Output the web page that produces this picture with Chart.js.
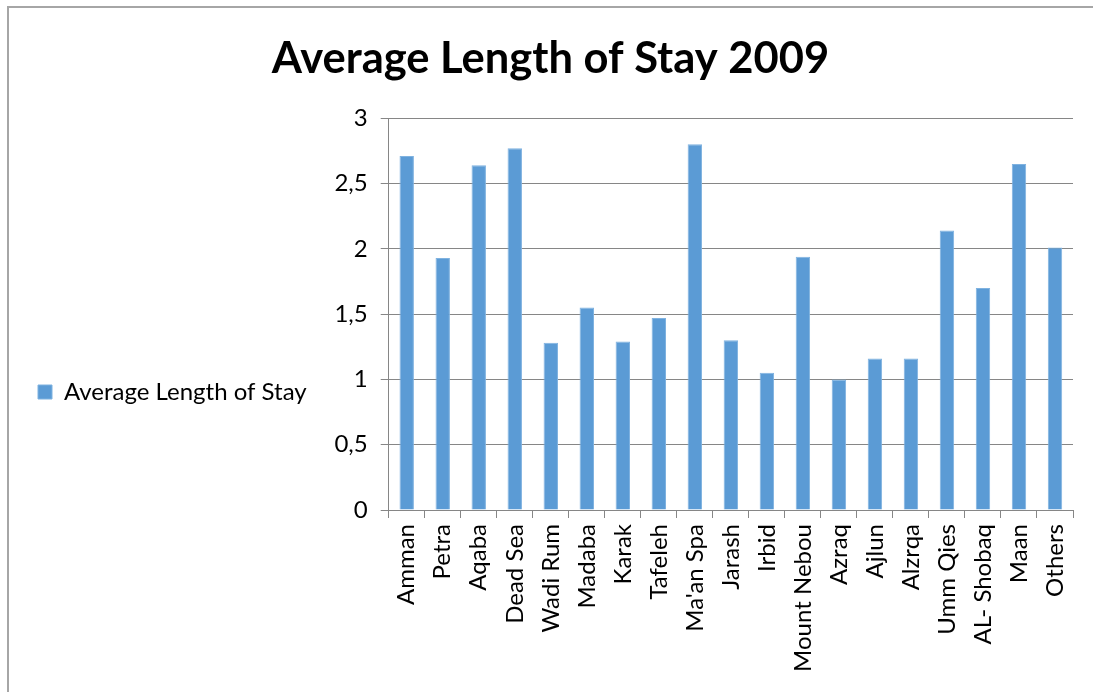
<!DOCTYPE html>
<html>
<head>
<meta charset="utf-8">
<script src="https://cdn.jsdelivr.net/npm/chart.js@4.4.1/dist/chart.umd.min.js"></script>
<style>
  html, body { margin: 0; padding: 0; background: #fff; }
  #wrap { position: absolute; left: 0; top: 0; width: 1093px; height: 692px; }
  #frame { position: absolute; left: 7px; top: 6px; width: 1200px; height: 800px;
           border-left: 2px solid #a6a6a6; border-top: 2px solid #a6a6a6; }
  canvas { position: absolute; left: 0; top: 0; }
</style>
</head>
<body>
<div id="wrap">
  <div id="frame"></div>
  <canvas id="c" width="1093" height="692"></canvas>
</div>
<script>
const categories = ["Amman", "Petra", "Aqaba", "Dead Sea", "Wadi Rum", "Madaba", "Karak", "Tafeleh",
  "Ma'an Spa", "Jarash", "Irbid", "Mount Nebou", "Azraq", "Ajlun", "Alzrqa", "Umm Qies",
  "AL- Shobaq", "Maan", "Others"];
const averageStay = [2.71, 1.93, 2.64, 2.77, 1.28, 1.55, 1.29, 1.47, 2.80, 1.30,
  1.05, 1.94, 1.00, 1.16, 1.16, 2.14, 1.70, 2.65, 2.01];
const seriesName = "Average Length of Stay";
const chartTitle = "Average Length of Stay 2009";
const yTicks = [0, 0.5, 1, 1.5, 2, 2.5, 3];

const FONT = "Lato, 'Open Sans', sans-serif";

new Chart(document.getElementById('c'), {
  type: 'bar',
  data: {
    labels: categories,
    datasets: [{
      label: seriesName,
      data: averageStay,
      backgroundColor: '#5B9BD5',
      borderColor: '#7fb2e0',
      borderWidth: 1,
      categoryPercentage: 1.0,
      barPercentage: 0.4
    }]
  },
  options: {
    responsive: false,
    animation: false,
    layout: { padding: { left: 28, right: 20, top: 0, bottom: 0 } },
    plugins: {
      title: {
        display: true,
        text: chartTitle,
        color: '#000',
        font: { family: FONT, size: 43.5, weight: 'bold' },
        padding: { top: 33, bottom: 33 }
      },
      legend: {
        position: 'left',
        maxWidth: 400,
        title: {
          display: true,
          text: ' ',
          font: { family: FONT, size: 10 },
          padding: { top: 0, bottom: 80 }
        },
        labels: {
          color: '#000',
          font: { family: FONT, size: 24 },
          boxWidth: 14,
          boxHeight: 14,
          padding: 10
        }
      },
      tooltip: { enabled: false }
    },
    scales: {
      x: {
        afterFit: (s) => { s.height = 182; },
        grid: {
          display: true,
          drawOnChartArea: false,
          drawTicks: true,
          tickLength: 8,
          color: '#868686',
          offset: true
        },
        border: { display: true, color: '#868686', width: 1 },
        ticks: {
          color: '#000',
          font: { family: FONT, size: 24 },
          minRotation: 90,
          maxRotation: 90,
          autoSkip: false,
          padding: 6
        }
      },
      y: {
        min: 0,
        max: 3,
        afterFit: (s) => { s.width = 72; },
        afterBuildTicks: (scale) => { scale.ticks = yTicks.map(v => ({ value: v })); },
        grid: {
          color: '#868686',
          lineWidth: 1,
          drawTicks: true,
          tickLength: 8
        },
        border: { display: true, color: '#868686', width: 1 },
        ticks: {
          color: '#000',
          font: { family: FONT, size: 24 },
          padding: 13,
          callback: (v) => String(v).replace('.', ',')
        }
      }
    }
  }
});
</script>
</body>
</html>
